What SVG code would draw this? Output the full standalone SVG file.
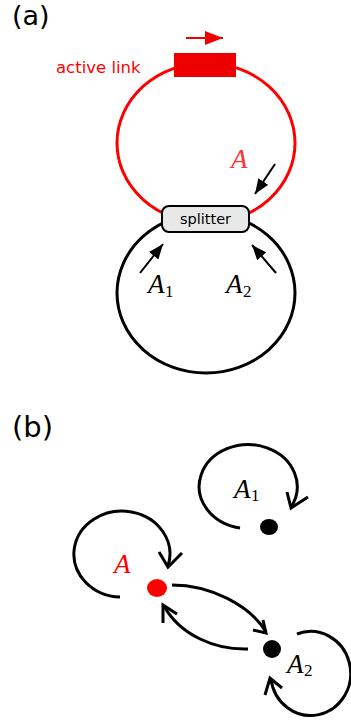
<svg xmlns="http://www.w3.org/2000/svg" width="351" height="722" viewBox="0 0 351 722">
<style>
.lbl{font-family:"DejaVu Sans","Liberation Sans",sans-serif;}
.math{font-family:"Liberation Serif","DejaVu Serif",serif;font-style:italic;font-size:27px;}
.sub{font-family:"Liberation Serif","DejaVu Serif",serif;font-size:17px;}
.loop{fill:none;stroke:#000;stroke-width:3;}
.thin{fill:none;stroke:#000;stroke-width:2;}
</style>
<defs>
<marker id="tri" markerUnits="userSpaceOnUse" markerWidth="16" markerHeight="12" refX="15" refY="6" orient="auto">
<path d="M0,0 L15,6 L0,12 Z" fill="#000"/>
</marker>
<marker id="trired" markerUnits="userSpaceOnUse" markerWidth="20" markerHeight="14" refX="18" refY="7" orient="auto">
<path d="M0,0 L18,7 L0,14 Z" fill="#ee0000"/>
</marker>
</defs>
<text class="lbl" x="12" y="25" font-size="27" fill="#000">(a)</text>
<text class="lbl" x="12" y="437" font-size="29" fill="#000">(b)</text>
<g id="loopA1a"><ellipse cx="206" cy="293" rx="89" ry="80" fill="none" stroke="#000" stroke-width="3"/></g>
<g id="loopAa"><ellipse cx="206" cy="143" rx="89" ry="80" fill="none" stroke="#ff0000" stroke-width="3"/></g>
<g id="activelink">
<rect x="174" y="53" width="62" height="24" fill="#ee0000"/>
<text class="lbl" x="56" y="73" font-size="16.5" fill="#ff0000">active link</text>
</g>
<g id="splitter">
<rect x="162" y="206" width="87" height="26" rx="7" fill="#e8e8e8" stroke="#000" stroke-width="2"/>
<text class="lbl" x="205.5" y="224" font-size="14.5" text-anchor="middle" fill="#000">splitter</text>
</g>
<g id="connectors-a">
<line x1="186" y1="38" x2="223" y2="38" stroke="#ee0000" stroke-width="2" marker-end="url(#trired)"/>
<line x1="275" y1="164" x2="255" y2="194" class="thin" marker-end="url(#tri)"/>
<line x1="140" y1="273" x2="163" y2="244" class="thin" marker-end="url(#tri)"/>
<line x1="276" y1="273" x2="252" y2="245" class="thin" marker-end="url(#tri)"/>
</g>
<g id="labels-a">
<text class="math" x="231" y="168" fill="#ff3333">A</text>
<text class="math" x="148" y="293" fill="#000">A</text><text class="sub" x="165" y="297" fill="#000">1</text>
<text class="math" x="226" y="293" fill="#000">A</text><text class="sub" x="243" y="297" fill="#000">2</text>
</g>
<g id="nodeA1">
<ellipse cx="269" cy="527" rx="9" ry="8" fill="#000"/>
<text class="math" x="234" y="498" fill="#000">A</text><text class="sub" x="251" y="501" fill="#000">1</text>
</g>
<g id="nodeA">
<ellipse cx="157" cy="588" rx="10" ry="9" fill="#ff0000"/>
<text class="math" x="114" y="573" fill="#ff0000">A</text>
</g>
<g id="nodeA2">
<ellipse cx="272" cy="649" rx="9" ry="9" fill="#000"/>
<text class="math" x="287" y="673" fill="#000">A</text><text class="sub" x="304" y="676" fill="#000">2</text>
</g>
<g id="connectors-b">
<path class="loop" d="M240 528 A49 42 0 1 1 291 507"/>
<path class="loop" d="M287 492 L291 508 L308 497"/>
<path class="loop" d="M120 597 A48 43 0 1 1 168 566"/>
<path class="loop" d="M159 552 L168 567 L182 553"/>
<path class="loop" d="M297 634 A40 42 0 1 1 271 679"/>
<path class="loop" d="M265 695 L270 678 L282 688"/>
<path class="loop" d="M172 585 C210 585 250 605 266 632"/>
<path class="loop" d="M253 630 L266 633 L263 620"/>
<path class="loop" d="M248 649 C215 650 180 635 164 606"/>
<path class="loop" d="M163 623 L163 605 L177 614"/>
</g>
</svg>
